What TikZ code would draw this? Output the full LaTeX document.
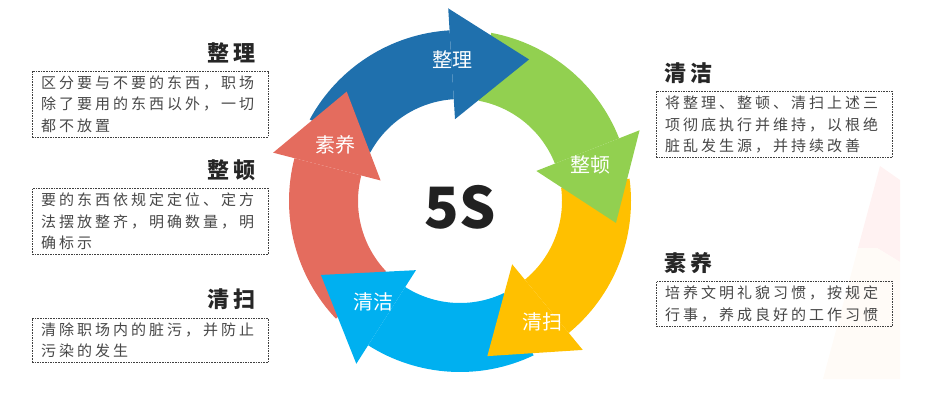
\documentclass[tikz,border=0pt]{standalone}
\usepackage{fontspec}
\setmainfont{Noto Sans CJK SC}
\newfontfamily\bodyfont[LetterSpace=20]{Noto Sans CJK SC}
\newfontfamily\headfont[LetterSpace=18]{Noto Sans CJK SC}
\usetikzlibrary{positioning}
\definecolor{seiri}{HTML}{1F70AD}
\definecolor{seiton}{HTML}{92D050}
\definecolor{seiso}{HTML}{FFC000}
\definecolor{seiketsu}{HTML}{00B0F0}
\definecolor{shitsuke}{HTML}{E46C5E}
\colorlet{notegray}{black!75}
\colorlet{textgray}{black!72}
\colorlet{headgray}{black!85}
\tikzstyle{note}=[draw=notegray,dash pattern=on 1.6pt off 1pt,line width=.7pt,text width=218pt,inner xsep=9pt,inner ysep=4.6pt,align=left,text=textgray,font=\bodyfont\fontsize{15}{21.5}\selectfont]
\tikzstyle{head}=[inner sep=0,text=headgray,font=\headfont\bfseries\fontsize{22}{26}\selectfont]
\tikzstyle{tag}=[inner sep=0,text=white,font=\fontsize{20}{24}\selectfont]
\def\Ro{171}   % ring
\def\Ri{102}   % ring
\def\Rh{193}   % head
\def\Rk{82}    % head
\def\Rt{157.5} % tip
\def\ringbody#1#2{
  \pgfmathsetmacro\bodystart{#2+58}
  \fill[#1] (\bodystart:\Ro) arc[start angle=\bodystart,end angle=#2,radius=\Ro]
    -- (#2:\Ri) arc[start angle=#2,end angle=\bodystart,radius=\Ri] -- cycle;
}
\def\ringhead#1#2{
  \pgfmathsetmacro\tipangle{#2-29.5}
  \fill[#1] (#2:\Rh) -- (\tipangle:\Rt) -- (#2:\Rk) -- cycle;
}
\begin{document}
\begin{tikzpicture}[x=1pt,y=-1pt]
  \useasboundingbox (0,0) rectangle (936,400);

  % BACKGROUND
  \fill[red!5] (880,166) -- (900,180) -- (900,262) -- (877,248) -- (858,248) -- cycle;
  \fill[orange!3] (858,248) -- (877,248) -- (900,262) -- (900,379) -- (823,379) -- cycle;

  % RING
  \begin{scope}[shift={(460,201)},y=1pt]
    \ringbody{seiri}{93.5}
    \ringbody{seiton}{21.5}
    \ringbody{seiso}{-50.5}
    \ringbody{seiketsu}{-122.5}
    \ringbody{shitsuke}{165.5}
    \ringhead{seiri}{93.5}
    \ringhead{seiton}{21.5}
    \ringhead{seiso}{-50.5}
    \ringhead{seiketsu}{-122.5}
    \ringhead{shitsuke}{165.5}
  \end{scope}
  \node[tag] (tag-zhengli)  at (452,60)  {整理};
  \node[tag] (tag-zhengdun) at (590,165) {整顿};
  \node[tag] (tag-qingsao)  at (542,322) {清扫};
  \node[tag] (tag-qingjie)  at (373,302) {清洁};
  \node[tag] (tag-suyang)   at (335,145) {素养};
  \node[inner sep=0,text=black!87,font=\bfseries\fontsize{57}{60}\selectfont] (five) at (460,207) {5S};

  % LEFT
  \node[note] (zhengli) at (150,104) {区分要与不要的东西，职场\\除了要用的东西以外，一切\\都不放置};
  \node[note] (zhengdun) at (150,221.5) {要的东西依规定定位、定方\\法摆放整齐，明确数量，明\\确标示};
  \node[note] (qingsao) at (150,340.5) {清除职场内的脏污，并防止\\污染的发生};
  \node[head,above left=7.5pt and 13pt of zhengli.north east] (zhengli-h) {整理};
  \node[head,above left=7.5pt and 13pt of zhengdun.north east] (zhengdun-h) {整顿};
  \node[head,above left=7.5pt and 13pt of qingsao.north east] (qingsao-h) {清扫};

  % RIGHT
  \node[note] (qingjie) at (774,124.5) {将整理、整顿、清扫上述三\\项彻底执行并维持，以根绝\\脏乱发生源，并持续改善};
  \node[note] (suyang) at (774,304) {培养文明礼貌习惯，按规定\\行事，养成良好的工作习惯};
  \node[head,above right=7.5pt and 9pt of qingjie.north west] (qingjie-h) {清洁};
  \node[head,above right=7.5pt and 9pt of suyang.north west] (suyang-h) {素养};
\end{tikzpicture}
\end{document}
